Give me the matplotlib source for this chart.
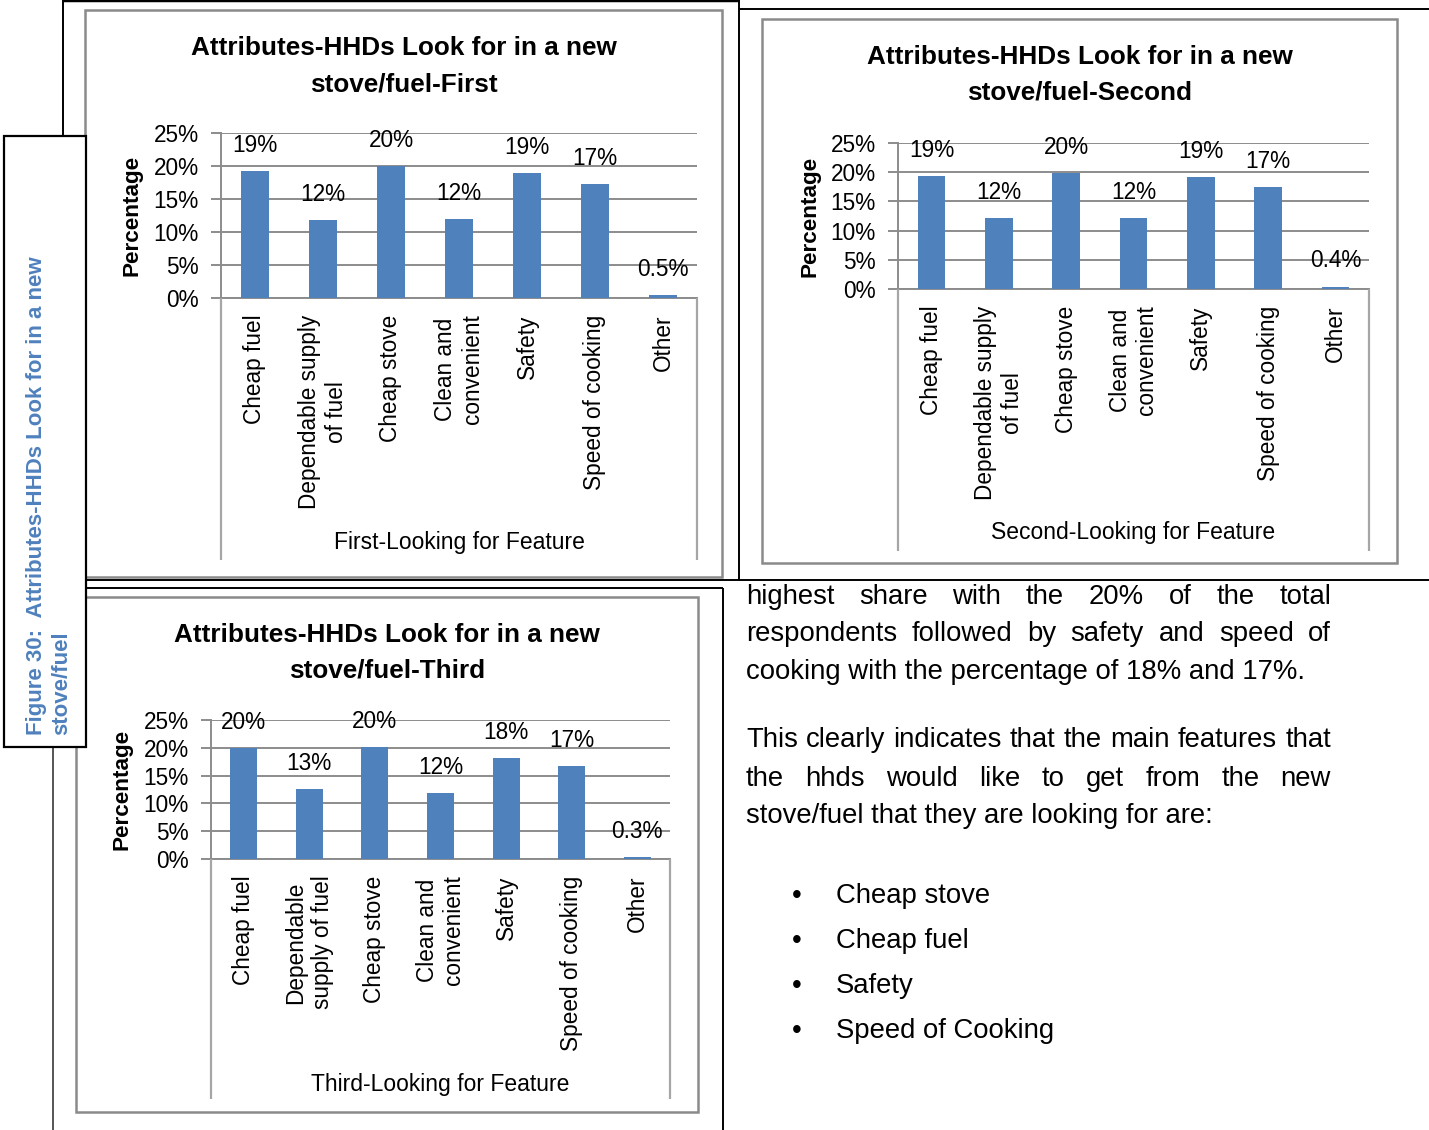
import numpy as np
import matplotlib
matplotlib.use("Agg")
import matplotlib.pyplot as plt
from matplotlib.lines import Line2D
from matplotlib.patches import Rectangle

## chart values (percent of households)
categories = ['Cheap fuel', 'Dependable supply\nof fuel', 'Cheap stove', 'Clean and\nconvenient',
              'Safety', 'Speed of cooking', 'Other']
categories_third = ['Cheap fuel', 'Dependable\nsupply of fuel', 'Cheap stove', 'Clean and\nconvenient',
                    'Safety', 'Speed of cooking', 'Other']
first = [19.2, 11.8, 20.0, 12.0, 18.9, 17.3, 0.5]
second = [19.4, 12.1, 19.9, 12.2, 19.1, 17.4, 0.4]
third = [20.0, 12.6, 20.1, 11.9, 18.2, 16.7, 0.3]
yticks = [0, 5, 10, 15, 20, 25]

title_top = 'Attributes-HHDs Look for in a new'
titles = ['stove/fuel-First', 'stove/fuel-Second', 'stove/fuel-Third']
xtitles = ['First-Looking for Feature', 'Second-Looking for Feature', 'Third-Looking for Feature']

para1 = ['highest share with the 20% of the total',
         'respondents followed by safety and speed of',
         'cooking with the percentage of 18% and 17%.']
para2 = ['This clearly indicates that the main features that',
         'the hhds would like to get from the new',
         'stove/fuel that they are looking for are:']
bullets = ['Cheap stove', 'Cheap fuel', 'Safety', 'Speed of Cooking']

plt.rcParams['font.family'] = ['Liberation Sans', 'DejaVu Sans']

W, H = 1429, 1130
BLUE = '#4F81BD'
GRID = '#8c8c8c'
FRAME = '#8a8a8a'
FS_TICK = 16.3
FS_TITLE = 18.8
FS_BODY = 19.8

fig = plt.figure(figsize=(W / 100, H / 100), dpi=100)


def fx(x):
    return x / W


def fy(y):
    return 1 - y / H


def line(x0, y0, x1, y1, color='black', lw=1.4, z=2):
    fig.add_artist(Line2D([fx(x0), fx(x1)], [fy(y0), fy(y1)], transform=fig.transFigure,
                          color=color, lw=lw, zorder=z, solid_capstyle='butt'))


def frame(x0, y0, x1, y1, color=FRAME, lw=1.8):
    fig.add_artist(Rectangle((fx(x0), fy(y1)), (x1 - x0) / W, (y1 - y0) / H, transform=fig.transFigure,
                             fill=False, edgecolor=color, lw=lw, zorder=2))


def chart(vals, cats, box, frm, title, xtitle, title_y, ylab_x, xtitle_y, ext_bottom):
    l, t, r, b = box
    frame(*frm)
    ax = fig.add_axes([fx(l), fy(b), (r - l) / W, (b - t) / H])
    x = np.arange(len(vals))
    ax.bar(x, vals, width=0.41, color=BLUE, zorder=3)
    ax.set_xlim(-0.5, len(vals) - 0.5)
    ax.set_ylim(0, 25)
    ax.set_yticks(yticks)
    ax.set_yticklabels([f'{v}%' for v in yticks], fontsize=FS_TICK)
    ax.set_xticks(x)
    ax.set_xticklabels(cats, rotation=90, ha='center', va='top', multialignment='center',
                       fontsize=FS_TICK)
    ax.tick_params(axis='x', length=0, pad=12)
    ax.tick_params(axis='y', direction='out', length=7, width=1.4, color=GRID, pad=9)
    ax.yaxis.grid(True, color=GRID, lw=1.4)
    ax.set_axisbelow(True)
    for s in ['top', 'right']:
        ax.spines[s].set_visible(False)
    for s in ['left', 'bottom']:
        ax.spines[s].set_color(GRID)
        ax.spines[s].set_linewidth(1.4)
    ax.patch.set_alpha(0)
    for i, v in enumerate(vals):
        lbl = f'{v:.0f}%' if v >= 1 else f'{v:.1f}%'
        ax.annotate(lbl, (i, v), xytext=(0, 18.5), textcoords='offset points',
                    ha='center', va='center', fontsize=FS_TICK)
    # plot area sides carried down under the categories
    line(l, b, l, ext_bottom, color='#a6a6a6', lw=1.6)
    line(r, b, r, ext_bottom, color='#a6a6a6', lw=1.6)
    cx = (frm[0] + frm[2]) / 2
    fig.text(fx(cx), fy(title_y[0]), title_top, ha='center', va='center', fontsize=FS_TITLE,
             fontweight='bold')
    fig.text(fx(cx), fy(title_y[1]), title, ha='center', va='center', fontsize=FS_TITLE,
             fontweight='bold')
    fig.text(fx(ylab_x), fy((t + b) / 2), 'Percentage', rotation=90, ha='center', va='center',
             fontsize=16.2, fontweight='bold')
    fig.text(fx((l + r) / 2), fy(xtitle_y), xtitle, ha='center', va='center', fontsize=16.5)
    return ax


chart(first, categories, (221, 133, 697, 298), (85, 10, 722, 577), titles[0], xtitles[0],
      (48, 84), 132, 543, 560)
chart(second, categories, (898, 143, 1369, 289), (762, 19, 1397, 563), titles[1], xtitles[1],
      (57, 93), 810, 533, 551)
chart(third, categories_third, (211, 720, 670, 859), (76, 597, 698, 1112), titles[2], xtitles[2],
      (635, 671), 122, 1084, 1099)

## document table borders
line(63, 0, 739, 0, lw=2.5)
line(63, 0, 63, 580)
line(739, 0, 739, 580)
line(739, 9, 1429, 9)
line(63, 580, 1429, 580)
line(53, 588, 723, 588)
line(53, 588, 53, 1130, color='#555555')
line(723, 588, 723, 1130)

## caption text box
box = Rectangle((fx(4), fy(747)), 82 / W, 611 / H, transform=fig.transFigure,
                facecolor='white', edgecolor='black', lw=1.6, zorder=10)
fig.add_artist(box)
clip = Rectangle((fx(4), fy(747)), 64 / W, 611 / H, transform=fig.transFigure)
for xc, txt in [(37, 'Figure 30:  Attributes-HHDs Look for in a new'), (62, 'stove/fuel')]:
    t = fig.text(fx(xc), fy(735), txt, rotation=90, ha='center', va='bottom', color=BLUE,
                 fontsize=16, fontweight='bold', zorder=11)
    t.set_clip_path(clip)

## body text on the right
renderer = fig.canvas.get_renderer()
TX0, TX1 = 746, 1331


def justify(text, y):
    words = text.split()
    widths = []
    for w in words:
        tmp = fig.text(0, 0, w, fontsize=FS_BODY)
        widths.append(tmp.get_window_extent(renderer).width)
        tmp.remove()
    gap = (TX1 - TX0 - sum(widths)) / (len(words) - 1)
    xpos = TX0
    for w, wd in zip(words, widths):
        fig.text(fx(xpos), fy(y), w, fontsize=FS_BODY, ha='left', va='center')
        xpos += wd + gap


justify(para1[0], 597)
justify(para1[1], 634)
fig.text(fx(TX0), fy(672), para1[2], fontsize=FS_BODY, ha='left', va='center')
justify(para2[0], 740)
justify(para2[1], 779)
fig.text(fx(TX0), fy(816), para2[2], fontsize=FS_BODY, ha='left', va='center')
for i, b in enumerate(bullets):
    y = 896 + 45 * i
    fig.text(fx(797), fy(y), '\u2022', fontsize=FS_BODY, ha='center', va='center')
    fig.text(fx(836), fy(y), b, fontsize=FS_BODY, ha='left', va='center')

fig.savefig('out.png', dpi=100)
